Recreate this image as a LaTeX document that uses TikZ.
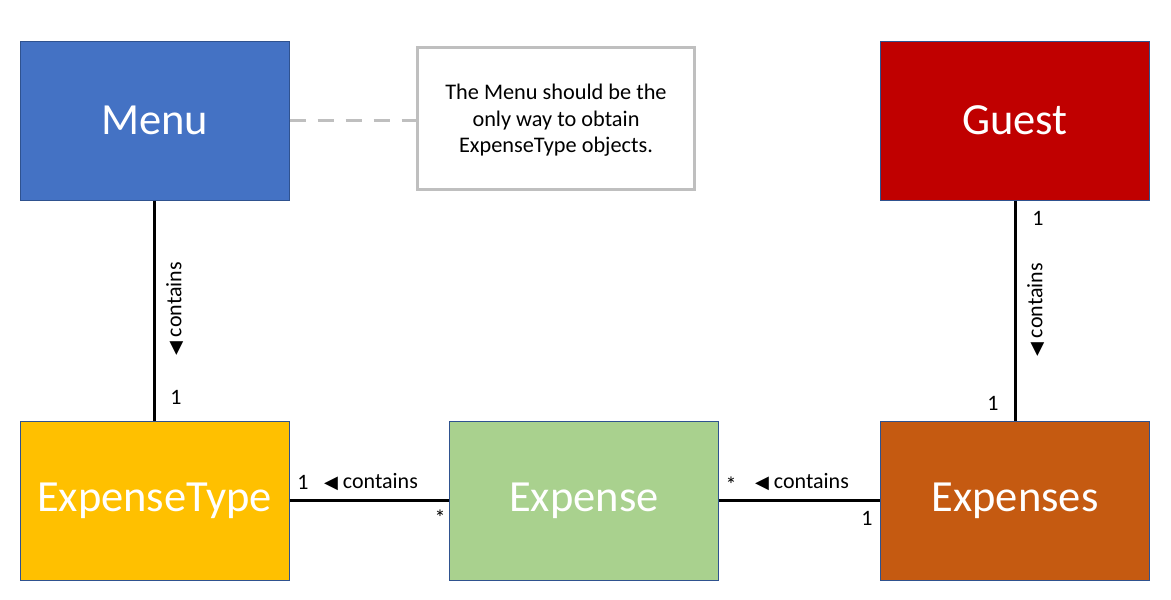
\documentclass[tikz,border=0pt]{standalone}
\usepackage{fontspec}
\setmainfont{Carlito}
\newfontfamily\symfont{DejaVu Sans}
\definecolor{menublue}{HTML}{4472C4}
\definecolor{guestred}{HTML}{C00000}
\definecolor{typeyellow}{HTML}{FFC000}
\definecolor{expgreen}{HTML}{A9D18E}
\definecolor{expsorange}{HTML}{C55A11}
\definecolor{edgeblue}{HTML}{2F528F}
\definecolor{notegray}{HTML}{BFBFBF}
\newcommand{\tri}{{\symfont\fontsize{18}{18}\selectfont ◀}}
\tikzset{
  box/.style={draw=edgeblue, line width=1pt, minimum width=269pt, minimum height=159pt, inner sep=0pt, font=\fontsize{44.5}{52}\selectfont, text=white},
  note/.style={draw=notegray, line width=3pt, fill=white, minimum width=277pt, minimum height=142pt, inner sep=0pt, align=center, font=\fontsize{22.3}{26.5}\selectfont},
  link/.style={line width=3pt, black},
  lbl/.style={font=\fontsize{22}{24}\selectfont, inner sep=0pt},
}
\begin{document}
\begin{tikzpicture}[x=1pt,y=-1pt]
\useasboundingbox (0,0) rectangle (1171,600);
\node[box, fill=menublue] (menu) at (154.5,120.5) {Menu};
\node[note] (note) at (556,118.5) {\rule{0pt}{19pt}The Menu should be the\\only way to obtain\\ExpenseType objects.};
\node[box, fill=guestred] (guest) at (1015,120.5) {Guest};
\node[box, fill=typeyellow] (etype) at (154.5,500.5) {ExpenseType};
\node[box, fill=expgreen] (exp) at (584,500.5) {Expense};
\node[box, fill=expsorange] (exps) at (1015,500.5) {Expenses};

\draw[notegray, line width=3.5pt, dash pattern=on 16pt off 12pt] (menu.east) -- (menu.east -| note.west);
\draw[link] (menu.south) -- (etype.north);
\draw[link] (guest.south) -- (exps.north);
\draw[link] (etype.east) -- (exp.west);
\draw[link] (exp.east) -- (exps.west);

\node[lbl, rotate=90] (l1) at (175,309) {\tri\ contains};
\node[lbl] (m1) at (176,397) {1};
\node[lbl, rotate=90] (l2) at (1036,310) {\tri\ contains};
\node[lbl] (g1) at (1038,218) {1};
\node[lbl] (e1) at (993,403) {1};
\node[lbl] (t1) at (303,482) {1};
\node[lbl] (l3) at (371,482) {\tri\ contains};
\node[lbl] (s1) at (440,518) {*};
\node[lbl] (s2) at (731,485) {*};
\node[lbl] (l4) at (802,482) {\tri\ contains};
\node[lbl] (x1) at (867,518) {1};
\end{tikzpicture}
\end{document}
